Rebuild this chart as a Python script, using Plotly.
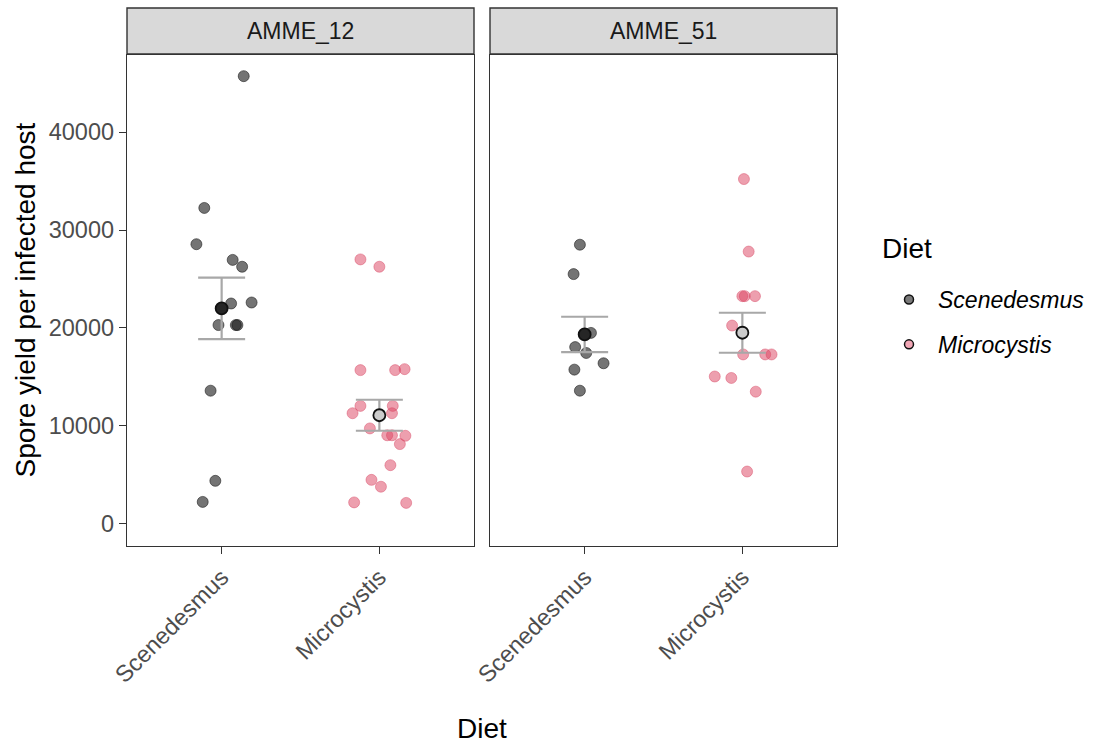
import numpy as np
import plotly.graph_objects as go

# ---- data -------------------------------------------------------------
facets = ["AMME_12", "AMME_51"]
diets = ["Scenedesmus", "Microcystis"]

# spore yield per infected host, one value per host
amme12_scen = [45700, 32250, 28550, 26950, 26250, 22500, 22600, 20300, 20300, 20300, 13600, 4400, 2250]
amme12_micro = [27000, 26250, 15700, 15700, 15800, 12050, 12050, 11300, 11300, 9750, 9050, 9050,
                9000, 8150, 6000, 4500, 3800, 2200, 2150]
amme51_scen = [28500, 25500, 19500, 18050, 17450, 16400, 15750, 13600]
amme51_micro = [35200, 27800, 23250, 23250, 23250, 20250, 17300, 17300, 17300, 15050, 14900, 13500, 5350]

# horizontal jitter (category units) applied to each host point
amme12_scen_jit = [0.14, -0.11, -0.16, 0.07, 0.13, 0.06, 0.19, -0.02, 0.09, 0.10, -0.07, -0.04, -0.12]
amme12_micro_jit = [-0.12, 0.0, -0.12, 0.10, 0.16, -0.12, 0.085, -0.17, 0.08, -0.06, 0.05, 0.08,
                    0.165, 0.13, 0.07, -0.05, 0.01, -0.16, 0.17]
amme51_scen_jit = [-0.03, -0.07, 0.04, -0.06, 0.01, 0.12, -0.065, -0.03]
amme51_micro_jit = [0.01, 0.04, 0.0, 0.015, 0.08, -0.065, 0.005, 0.145, 0.185, -0.175, -0.07, 0.085, 0.03]

y_ticks = [0, 10000, 20000, 30000, 40000]

# ---- styling ------------------------------------------------------------
W, H = 1097, 747
FONT = "Liberation Sans"
pt_fill = {"Scenedesmus": "rgba(30,30,30,0.62)", "Microcystis": "rgba(220,70,100,0.52)"}
pt_line = {"Scenedesmus": "rgba(20,20,20,0.55)", "Microcystis": "rgba(215,70,100,0.45)"}
mean_fill = {"Scenedesmus": "#262626", "Microcystis": "#cccccc"}
legend_fill = {"Scenedesmus": "#7a7a7a", "Microcystis": "#f2a7b6"}

# panel geometry in pixels
panel_x = [(127, 474), (490, 837)]
panel_top, panel_bottom = 55, 546
strip_top = 8


def px_x(v):
    return v / W


def px_y(v):
    return 1 - v / H


groups = {
    ("AMME_12", "Scenedesmus"): (amme12_scen, amme12_scen_jit),
    ("AMME_12", "Microcystis"): (amme12_micro, amme12_micro_jit),
    ("AMME_51", "Scenedesmus"): (amme51_scen, amme51_scen_jit),
    ("AMME_51", "Microcystis"): (amme51_micro, amme51_micro_jit),
}

fig = go.Figure()

for fi, facet in enumerate(facets):
    xa = "x" if fi == 0 else "x2"
    ya = "y" if fi == 0 else "y2"
    # raw host points
    for di, diet in enumerate(diets):
        vals, jit = groups[(facet, diet)]
        xs = [di + 1 + j for j in jit]
        fig.add_trace(go.Scatter(
            x=xs, y=vals, mode="markers", xaxis=xa, yaxis=ya, showlegend=False,
            marker=dict(size=11, color=pt_fill[diet], line=dict(color=pt_line[diet], width=1)),
            hoverinfo="y"))
    # mean +/- standard error
    for di, diet in enumerate(diets):
        vals = np.array(groups[(facet, diet)][0], dtype=float)
        m = vals.mean()
        se = vals.std(ddof=1) / np.sqrt(len(vals))
        fig.add_trace(go.Scatter(
            x=[di + 1], y=[m], mode="markers", xaxis=xa, yaxis=ya, showlegend=False,
            marker=dict(size=1, color="rgba(0,0,0,0)"),
            error_y=dict(type="data", array=[se], color="#a8a8a8", thickness=2.2, width=23.5),
            hoverinfo="skip"))
        fig.add_trace(go.Scatter(
            x=[di + 1], y=[m], mode="markers", xaxis=xa, yaxis=ya, showlegend=False,
            marker=dict(size=12, color=mean_fill[diet], line=dict(color="#111111", width=1.8)),
            hoverinfo="y"))

# legend entries
for diet in diets:
    fig.add_trace(go.Scatter(
        x=[None], y=[None], mode="markers", name=f"<i>{diet}</i>", legendgroup=diet,
        marker=dict(size=9, color=legend_fill[diet], line=dict(color="#111111", width=1.5))))

axis_common = dict(
    showgrid=False, zeroline=False, showline=True, mirror=True, automargin=False,
    linecolor="#333333", linewidth=1.4,
)
y_range = [-2250, 47860]
x_range = [0.4, 2.6]
tickfont = dict(family=FONT, size=23.5, color="#4d4d4d")

layout = dict(
    width=W, height=H, margin=dict(l=0, r=0, t=0, b=0, autoexpand=False),
    paper_bgcolor="white", plot_bgcolor="white",
    font=dict(family=FONT, color="#000000"),
    xaxis=dict(axis_common, domain=[px_x(panel_x[0][0]), px_x(panel_x[0][1])], range=x_range,
               tickvals=[1, 2], ticktext=diets, tickangle=-45, ticks="outside", ticklen=7,
               tickwidth=1.4, tickcolor="#333333", tickfont=tickfont, anchor="y"),
    xaxis2=dict(axis_common, domain=[px_x(panel_x[1][0]), px_x(panel_x[1][1])], range=x_range,
                tickvals=[1, 2], ticktext=diets, tickangle=-45, ticks="outside", ticklen=7,
                tickwidth=1.4, tickcolor="#333333", tickfont=tickfont, anchor="y2"),
    yaxis=dict(axis_common, domain=[px_y(panel_bottom), px_y(panel_top)], range=y_range,
               tickvals=y_ticks, tickformat="d", ticks="outside", ticklen=7, tickwidth=1.4,
               tickcolor="#333333", tickfont=tickfont, anchor="x"),
    yaxis2=dict(axis_common, domain=[px_y(panel_bottom), px_y(panel_top)], range=y_range,
                showticklabels=False, ticks="", anchor="x2"),
    legend=dict(
        x=px_x(880), xanchor="left", y=px_y(278), yanchor="top",
        font=dict(family=FONT, size=23, color="#000000"),
        tracegroupgap=12, itemwidth=48, bgcolor="rgba(0,0,0,0)"),
)
fig.update_layout(**layout)

# facet strips
shapes = []
annotations = []
for fi, facet in enumerate(facets):
    x0, x1 = panel_x[fi]
    shapes.append(dict(type="rect", xref="paper", yref="paper",
                       x0=px_x(x0), x1=px_x(x1), y0=px_y(panel_top - 1), y1=px_y(strip_top),
                       fillcolor="#d9d9d9", line=dict(color="#333333", width=1.4), layer="below"))
    annotations.append(dict(text=facet, xref="paper", yref="paper", showarrow=False,
                            x=px_x((x0 + x1) / 2), y=px_y((strip_top + panel_top) / 2),
                            xanchor="center", yanchor="middle",
                            font=dict(family=FONT, size=23, color="#1a1a1a")))

# legend heading
annotations.append(dict(text="Diet", xref="paper", yref="paper", showarrow=False,
                        x=px_x(880), y=px_y(248), xanchor="left", yanchor="middle",
                        font=dict(family=FONT, size=28, color="#000000")))

# axis titles
annotations.append(dict(text="Spore yield per infected host", xref="paper", yref="paper",
                        showarrow=False, textangle=-90, x=px_x(25), y=px_y((panel_top + panel_bottom) / 2),
                        xanchor="center", yanchor="middle",
                        font=dict(family=FONT, size=28, color="#000000")))
annotations.append(dict(text="Diet", xref="paper", yref="paper", showarrow=False,
                        x=px_x((panel_x[0][0] + panel_x[1][1]) / 2), y=px_y(728),
                        xanchor="center", yanchor="middle",
                        font=dict(family=FONT, size=28, color="#000000")))

fig.update_layout(shapes=shapes, annotations=annotations)
fig.write_html("out.html")
